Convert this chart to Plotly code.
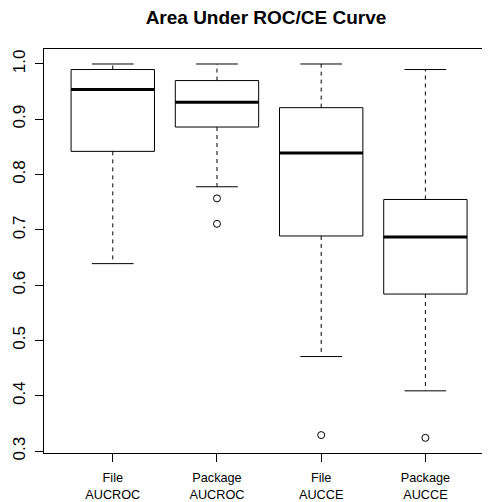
import plotly.graph_objects as go

# ---- data ----
categories = ["File<br>AUCROC", "Package<br>AUCROC", "File<br>AUCCE", "Package<br>AUCCE"]
lower_whisker = [0.639, 0.778, 0.471, 0.409]
q1 = [0.842, 0.886, 0.689, 0.584]
median = [0.954, 0.931, 0.839, 0.687]
q3 = [0.990, 0.970, 0.921, 0.755]
upper_whisker = [1.000, 1.000, 1.000, 0.990]
outliers = [[], [0.757, 0.711], [0.329], [0.324]]
y_ticks = [0.3, 0.4, 0.5, 0.6, 0.7, 0.8, 0.9, 1.0]

positions = list(range(1, len(categories) + 1))
box_half = 0.4
cap_half = 0.2
FONT = "Liberation Sans, Arial, Helvetica, sans-serif"

fig = go.Figure()

# box bodies
for i, p in enumerate(positions):
    fig.add_trace(go.Box(
        x=[p], q1=[q1[i]], median=[median[i]], q3=[q3[i]],
        lowerfence=[q1[i]], upperfence=[q3[i]],
        width=2 * box_half, fillcolor="white",
        line=dict(color="black", width=1),
        boxpoints=False, whiskerwidth=0, showlegend=False, hoverinfo="skip",
    ))

# dashed whiskers
wx, wy = [], []
for i, p in enumerate(positions):
    wx += [p, p, None, p, p, None]
    wy += [q3[i], upper_whisker[i], None, q1[i], lower_whisker[i], None]
fig.add_trace(go.Scatter(x=wx, y=wy, mode="lines",
                         line=dict(color="black", width=1, dash="4px,4px"),
                         showlegend=False, hoverinfo="skip"))

# whisker caps
cx, cy = [], []
for i, p in enumerate(positions):
    for v in (upper_whisker[i], lower_whisker[i]):
        cx += [p - cap_half, p + cap_half, None]
        cy += [v, v, None]
fig.add_trace(go.Scatter(x=cx, y=cy, mode="lines",
                         line=dict(color="black", width=1),
                         showlegend=False, hoverinfo="skip"))

# thick medians
mx, my = [], []
for i, p in enumerate(positions):
    mx += [p - box_half, p + box_half, None]
    my += [median[i], median[i], None]
fig.add_trace(go.Scatter(x=mx, y=my, mode="lines",
                         line=dict(color="black", width=3),
                         showlegend=False, hoverinfo="skip"))

# outliers
ox, oy = [], []
for i, p in enumerate(positions):
    for v in outliers[i]:
        ox.append(p)
        oy.append(v)
fig.add_trace(go.Scatter(x=ox, y=oy, mode="markers",
                         marker=dict(symbol="circle-open", size=7,
                                     color="black", line=dict(width=1)),
                         showlegend=False, hoverinfo="skip"))

# page body has an 8px margin, so the figure is 482x494 and offset accordingly
fig.update_layout(
    width=482, height=494,
    margin=dict(l=36, r=0, t=41, b=49, autoexpand=False),
    paper_bgcolor="white", plot_bgcolor="white",
    font=dict(family=FONT, color="black"),
    title=dict(text="<b>Area Under ROC/CE Curve</b>",
               font=dict(size=19, family=FONT, color="black"),
               x=(266 - 8) / 482, xref="container", xanchor="center",
               y=1 - (17.5 - 8) / 494, yref="container", yanchor="middle"),
    showlegend=False,
)
fig.update_xaxes(
    range=[0.34, 4.62], tickvals=positions, ticktext=categories,
    ticks="outside", ticklen=8, tickcolor="black", tickwidth=1,
    showline=True, linecolor="black", linewidth=1, mirror=True,
    showgrid=False, zeroline=False, automargin=False,
    tickfont=dict(size=12.7, family=FONT, color="black"),
    ticklabelstandoff=5,
)
fig.update_yaxes(
    range=[0.2966, 1.0271], tickvals=y_ticks,
    ticktext=[f"{v:.1f}" for v in y_ticks],
    ticks="outside", ticklen=8, tickcolor="black", tickwidth=1,
    showline=True, linecolor="black", linewidth=1, mirror=False,
    showgrid=False, zeroline=False, tickangle=-90, automargin=False,
    tickfont=dict(size=17, family=FONT, color="black"),
    ticklabelstandoff=3,
)

fig.write_html("out.html")
